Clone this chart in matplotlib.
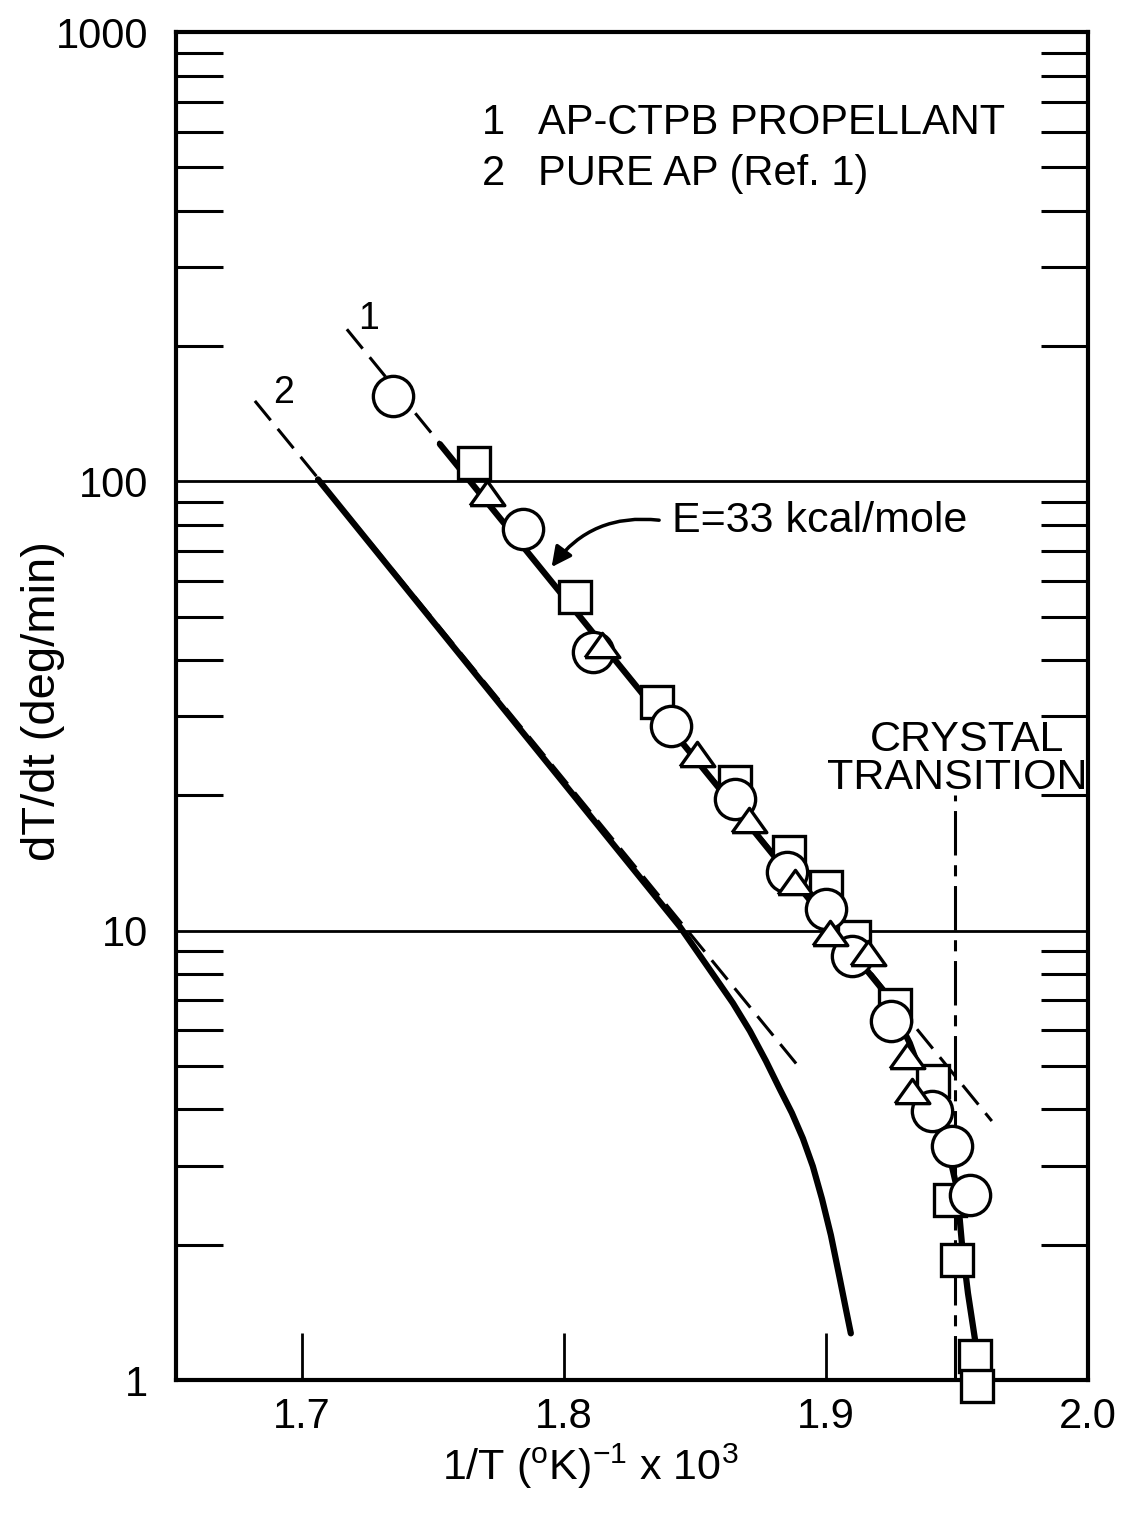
import numpy as np
import matplotlib
matplotlib.use('Agg')
import matplotlib.pyplot as plt
from matplotlib.ticker import FixedLocator, NullFormatter

plt.rcParams['font.family'] = ['Liberation Sans', 'DejaVu Sans']
plt.rcParams['lines.scale_dashes'] = False

# AP-CTPB propellant data (1/T x 10^3, dT/dt)
circ_x = [1.7348, 1.7844, 1.8111, 1.8409, 1.8653, 1.8851, 1.9000, 1.9099, 1.9248, 1.9404, 1.9481, 1.9549]
circ_y = [155, 78.5, 41.8, 28.5, 19.6, 13.5, 11.2, 8.8, 6.3, 3.96, 3.31, 2.58]
sq_x = [1.7657, 1.8042, 1.8355, 1.8653, 1.8860, 1.9000, 1.9107, 1.9263, 1.9408, 1.9473, 1.9500, 1.9568, 1.9576]
sq_y = [110, 55.3, 32.3, 21.4, 15.0, 12.5, 9.7, 6.84, 4.64, 2.51, 1.85, 1.13, 0.97]
tri_x = [1.7707, 1.8145, 1.8508, 1.8706, 1.8882, 1.9015, 1.9160, 1.9309, 1.9328]
tri_y = [94, 43.3, 24.7, 17.6, 12.8, 9.9, 8.9, 5.26, 4.40]

# curve 1 (propellant): fitted line and measured curve
fit1_x = [1.7172, 1.9633]
fit1_y = [218, 3.77]
curve1_x = [1.7527, 1.9217, 1.9320, 1.9404, 1.9465, 1.9500, 1.9519, 1.9542, 1.9568, 1.9588]
curve1_y = [121, 7.38, 5.62, 4.13, 3.28, 2.67, 2.01, 1.56, 1.24, 0.98]

# curve 2 (pure AP, Ref. 1)
fit2_x = [1.6821, 1.8901]
fit2_y = [151, 4.94]
curve2_x = [1.7062, 1.8443, 1.8538, 1.8645, 1.8710, 1.8771, 1.8824, 1.8870, 1.8912,
            1.8950, 1.8985, 1.9019, 1.9053, 1.9076, 1.9095]
curve2_y = [101, 10.2, 8.49, 6.90, 5.98, 5.13, 4.44, 3.93, 3.45,
            2.99, 2.53, 2.10, 1.68, 1.44, 1.27]

x_crystal = 1.9492

xticks = [1.7, 1.8, 1.9, 2.0]
xticklabels = ['1.7', '1.8', '1.9', '2.0']
yticks = [1, 10, 100, 1000]
yticklabels = ['1', '10', '100', '1000']

fig = plt.figure(figsize=(11.23, 15.23), dpi=100)
ax = fig.add_axes([176/1123, 1 - 1380/1523, 912/1123, 1348/1523])
ax.set_yscale('log')
ax.set_xlim(1.652, 2.0)
ax.set_ylim(1, 1000)

for s in ax.spines.values():
    s.set_linewidth(3)

ax.axhline(10, color='k', lw=2)
ax.axhline(100, color='k', lw=2)

ax.plot(fit1_x, fit1_y, color='k', lw=2.2, dashes=(18, 8), zorder=2)
ax.plot(fit2_x, fit2_y, color='k', lw=2.2, dashes=(18, 8), zorder=2)
ax.plot(curve1_x, curve1_y, color='k', lw=4.5, zorder=2, solid_capstyle='round', solid_joinstyle='round')
ax.plot(curve2_x, curve2_y, color='k', lw=4.5, zorder=2, solid_capstyle='round', solid_joinstyle='round')
ax.plot([x_crystal, x_crystal], [1, 20], color='k', lw=2.2, dashes=(32, 7, 8, 7), zorder=2)

tri = [(-1, -0.7), (1, -0.7), (0, 0.7), (-1, -0.7)]
ax.plot(sq_x, sq_y, ls='none', marker='s', ms=23, mfc='white', mec='k', mew=2.4, zorder=3, clip_on=False)
ax.plot(circ_x, circ_y, ls='none', marker='o', ms=29, mfc='white', mec='k', mew=2.4, zorder=4, clip_on=False)
ax.plot(tri_x, tri_y, ls='none', marker=tri, ms=25, mfc='white', mec='k', mew=2.4, zorder=5, clip_on=False)

ax.set_xticks(xticks)
ax.set_xticklabels(xticklabels)
ax.tick_params(axis='x', direction='in', length=34, width=2, labelsize=30, pad=12, top=False)
ax.yaxis.set_major_locator(FixedLocator(yticks))
ax.set_yticklabels(yticklabels)
minor = [m * 10**d for d in range(3) for m in range(2, 10)]
ax.yaxis.set_minor_locator(FixedLocator(minor))
ax.yaxis.set_minor_formatter(NullFormatter())
ax.tick_params(axis='y', which='major', length=0, labelsize=30, pad=20)
ax.tick_params(axis='y', which='minor', direction='in', length=34, width=2.2, left=True, right=True)

ax.set_xlabel(r'1/T ($\mathregular{^o}$K)$\mathregular{^{-1}}$ x 10$\mathregular{^3}$', fontsize=31)
ax.xaxis.set_label_coords(0.454, -0.046)
ax.set_ylabel('dT/dt (deg/min)', fontsize=34)
ax.yaxis.set_label_coords(-0.122, 0.504)

ax.text(0.3355, 0.9325, '1', transform=ax.transAxes, fontsize=30, va='center')
ax.text(0.397, 0.9325, 'AP-CTPB PROPELLANT', transform=ax.transAxes, fontsize=30, va='center')
ax.text(0.3355, 0.895, '2', transform=ax.transAxes, fontsize=30, va='center')
ax.text(0.397, 0.895, 'PURE AP (Ref. 1)', transform=ax.transAxes, fontsize=30, va='center')

ax.text(1.7256, 230, '1', fontsize=27, ha='center', va='center')
ax.text(1.6932, 157, '2', fontsize=27, ha='center', va='center')

ax.text(1.8412, 81.8, 'E=33 kcal/mole', fontsize=31, va='center')
ax.annotate('', xy=(1.7947, 63.7), xytext=(1.8374, 81.8),
            arrowprops=dict(arrowstyle='-|>', lw=2.5, color='k', mutation_scale=30,
                            connectionstyle='arc3,rad=0.3'))

ax.text(0.867, 0.475, 'CRYSTAL', transform=ax.transAxes, fontsize=31, ha='center', va='center')
ax.text(0.857, 0.4466, 'TRANSITION', transform=ax.transAxes, fontsize=31, ha='center', va='center')

fig.savefig('out.png', dpi=100)
